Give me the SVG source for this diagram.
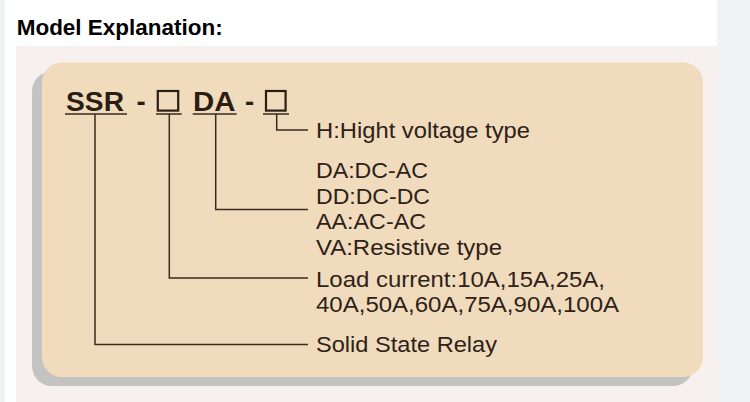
<svg xmlns="http://www.w3.org/2000/svg" width="750" height="402" viewBox="0 0 750 402">
<style>
.lbl{font-family:"Liberation Sans",Arial,sans-serif;font-size:22.5px;fill:#2e2118}
.code{font-family:"Liberation Sans",Arial,sans-serif;font-size:27.5px;font-weight:bold;fill:#2a1d14}
.ul{stroke:#3b2a1e;stroke-width:1.5;fill:none}
.box{stroke:#2a1d14;stroke-width:2.2;fill:none}
.conn path{stroke:#3b2a1e;stroke-width:1.5;fill:none}
</style>
<rect x="0" y="0" width="750" height="402" fill="#f1f2f6"/>
<rect x="5" y="0" width="712" height="402" fill="#ffffff"/>
<rect x="16" y="46" width="701" height="356" fill="#f6f0ef"/>
<text x="16.7" y="35" font-family="'Liberation Sans',Arial,sans-serif" font-size="22.5" font-weight="bold" fill="#000" textLength="206" lengthAdjust="spacingAndGlyphs">Model Explanation:</text>
<g id="panel">
<rect x="32" y="71.5" width="661" height="314.5" rx="20" fill="#c3c3c1"/>
<rect x="42" y="62.5" width="661" height="314.5" rx="20" fill="#f0dcbd"/>
</g>
<g id="code">
<text class="code" x="66" y="111" textLength="58" lengthAdjust="spacingAndGlyphs">SSR</text>
<text class="code" x="136.5" y="111">-</text>
<rect class="box" x="157.8" y="91" width="20.4" height="19.6"/>
<text class="code" x="193" y="111" textLength="42.5" lengthAdjust="spacingAndGlyphs">DA</text>
<text class="code" x="245" y="111">-</text>
<rect class="box" x="266" y="91" width="19.6" height="19.6"/>
<path class="ul" d="M65 114H127M156 114H181.7M192.7 114H236.7M263 114H289"/>
</g>
<g class="conn" id="connectors">
<path d="M95 114V344.5H308"/>
<path d="M169.3 114V278H308"/>
<path d="M215.7 114V209.5H308"/>
<path d="M276.7 114V130H308"/>
</g>
<g id="h-type"><text class="lbl" x="316" y="137.5" textLength="214" lengthAdjust="spacingAndGlyphs">H:Hight voltage type</text></g>
<g id="mode">
<text class="lbl" x="316" y="178" textLength="112" lengthAdjust="spacingAndGlyphs">DA:DC-AC</text>
<text class="lbl" x="316" y="203.5" textLength="114" lengthAdjust="spacingAndGlyphs">DD:DC-DC</text>
<text class="lbl" x="316" y="229" textLength="110" lengthAdjust="spacingAndGlyphs">AA:AC-AC</text>
<text class="lbl" x="316" y="255" textLength="186" lengthAdjust="spacingAndGlyphs">VA:Resistive type</text>
</g>
<g id="load">
<text class="lbl" x="316" y="286.7" textLength="289" lengthAdjust="spacingAndGlyphs">Load current:10A,15A,25A,</text>
<text class="lbl" x="316" y="312.3" textLength="303" lengthAdjust="spacingAndGlyphs">40A,50A,60A,75A,90A,100A</text>
</g>
<g id="ssr"><text class="lbl" x="316" y="352" textLength="181" lengthAdjust="spacingAndGlyphs">Solid State Relay</text></g>
</svg>
